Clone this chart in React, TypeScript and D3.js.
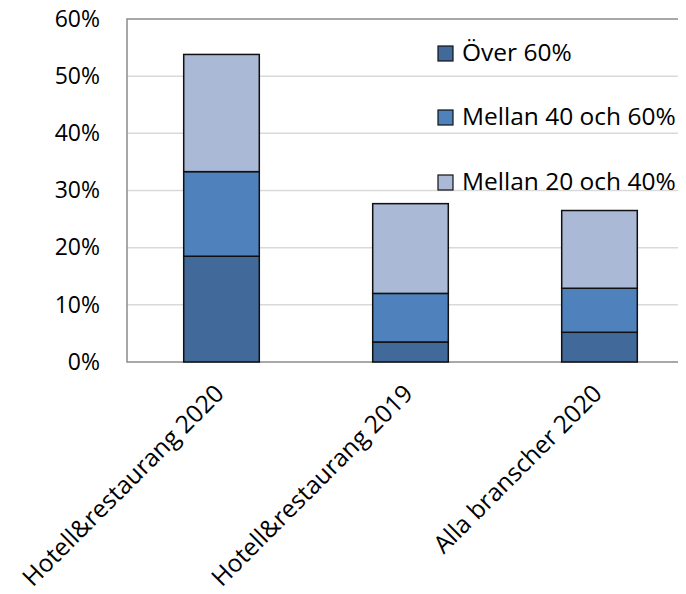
import React, {FC, useEffect, useRef} from 'react';
import * as d3 from 'd3';

const categories = ['Hotell&restaurang 2020', 'Hotell&restaurang 2019', 'Alla branscher 2020'];
const seriesNames = ['Över 60%', 'Mellan 40 och 60%', 'Mellan 20 och 40%'];
const over60 = [18.5, 3.5, 5.2];
const mellan40to60 = [14.8, 8.5, 7.7];
const mellan20to40 = [20.5, 15.7, 13.6];
const yTicks = [0, 10, 20, 30, 40, 50, 60];
const colors = ['#416a9b', '#4f81bd', '#aab9d6'];

const App: FC = () => {
  const ref = useRef<SVGSVGElement>(null);
  const width = 686;
  const height = 594;
  const margin = {top: 19, right: -8, bottom: 232, left: 127};

  useEffect(() => {
    const root = d3.select(ref.current);
    root.selectAll('*').remove();
    const font = '"Open Sans", sans-serif';

    const table = categories.map((c, i) => ({
      cat: c,
      s0: over60[i],
      s1: mellan40to60[i],
      s2: mellan20to40[i],
    }));
    const stack = d3.stack<any>().keys(['s0', 's1', 's2'])(table);

    const x = d3
      .scaleBand()
      .domain(categories)
      .range([margin.left, width - margin.right])
      .paddingInner(0.6)
      .paddingOuter(0.3);
    const y = d3
      .scaleLinear()
      .domain([0, 60])
      .range([height - margin.bottom, margin.top]);

    // gridlines
    root
      .append('g')
      .selectAll('line')
      .data(yTicks.slice(1, -1))
      .enter()
      .append('line')
      .attr('x1', margin.left)
      .attr('x2', width)
      .attr('y1', d => y(d))
      .attr('y2', d => y(d))
      .attr('stroke', '#d9d9d9')
      .attr('stroke-width', 1.5);

    // plot border
    root
      .append('rect')
      .attr('x', margin.left)
      .attr('y', y(60))
      .attr('width', width - margin.left + 10)
      .attr('height', y(0) - y(60))
      .attr('fill', 'none')
      .attr('stroke', '#8c8c8c')
      .attr('stroke-width', 1.5);

    // y tick labels
    root
      .append('g')
      .selectAll('text')
      .data(yTicks)
      .enter()
      .append('text')
      .attr('x', 100)
      .attr('y', d => y(d))
      .attr('dy', '0.34em')
      .attr('text-anchor', 'end')
      .attr('font-family', font)
      .attr('font-size', 23)
      .attr('fill', '#000')
      .text(d => `${d}%`);

    // bars
    root
      .append('g')
      .selectAll('g')
      .data(stack)
      .enter()
      .append('g')
      .attr('fill', (_d, i) => colors[i])
      .selectAll('rect')
      .data(d => d)
      .enter()
      .append('rect')
      .attr('x', (d: any) => x(d.data.cat) as number)
      .attr('y', d => y(d[1]))
      .attr('width', x.bandwidth())
      .attr('height', d => y(d[0]) - y(d[1]))
      .attr('stroke', '#111')
      .attr('stroke-width', 1.5);

    // x labels
    root
      .append('g')
      .selectAll('text')
      .data(categories)
      .enter()
      .append('text')
      .attr('transform', d => `translate(${(x(d) as number) + x.bandwidth() / 2 + 4}, 395) rotate(-45)`)
      .attr('text-anchor', 'end')
      .attr('font-family', font)
      .attr('font-size', 24.5)
      .attr('fill', '#000')
      .text(d => d);

    // legend
    const legendY = [53, 117, 182];
    const legend = root
      .append('g')
      .selectAll('g')
      .data(seriesNames)
      .enter()
      .append('g')
      .attr('transform', (_d, i) => `translate(438, ${legendY[i]})`);
    legend
      .append('rect')
      .attr('x', 0)
      .attr('y', -7)
      .attr('width', 15)
      .attr('height', 15)
      .attr('fill', (_d, i) => colors[i])
      .attr('stroke', '#111')
      .attr('stroke-width', 1.2);
    legend
      .append('text')
      .attr('x', 24)
      .attr('y', 0)
      .attr('dy', '0.34em')
      .attr('font-family', font)
      .attr('font-size', 24.5)
      .attr('fill', '#000')
      .text(d => d);
  }, []);

  return <svg ref={ref} width={width} height={height} style={{display: 'block', margin: -8}} />;
};

export default App;
